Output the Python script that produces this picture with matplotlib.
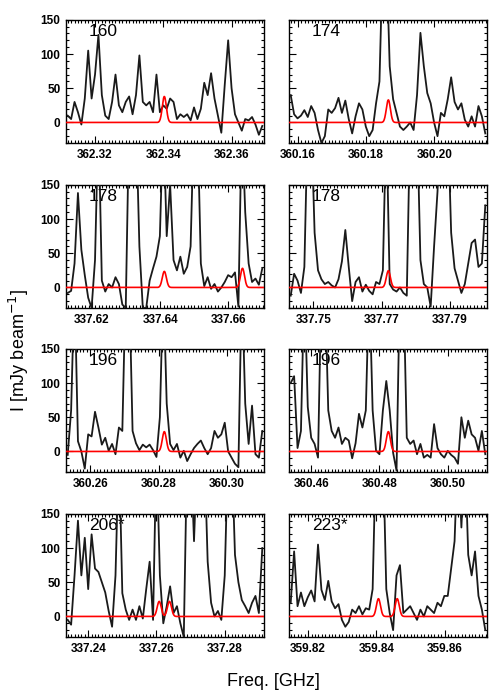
import numpy as np
import matplotlib
matplotlib.use('Agg')
import matplotlib.pyplot as plt
from matplotlib.ticker import MultipleLocator, FixedLocator

plt.rcParams['font.family'] = ['Liberation Sans', 'DejaVu Sans']

# panel labels and frequency windows (GHz)
panel_labels = ['160', '174', '178', '178', '196', '196', '206*', '223*']
freq_lo = [362.3115, 360.1574, 337.6124, 337.7429, 360.2529, 360.4535, 337.2335, 359.8144]
freq_span = 0.058
chan_width = 0.001

xtick_vals = [[362.32, 362.34, 362.36],
              [360.16, 360.18, 360.20],
              [337.62, 337.64, 337.66],
              [337.75, 337.77, 337.79],
              [360.26, 360.28, 360.30],
              [360.46, 360.48, 360.50],
              [337.24, 337.26, 337.28],
              [359.82, 359.84, 359.86]]

# observed spectra (mJy/beam), one value per channel
spec_160 = [10, 5, 30, 15, -3, 35, 105, 35, 70, 128, 40, 10, 5, 30, 70, 25, 15, 30, 38, 12,
            40, 98, 30, 25, 30, 15, 70, 15, 25, 20, 35, 30, 5, 12, 8, 12, 3, 22, 5, 20,
            58, 40, 72, 35, 10, -15, 55, 120, 50, 12, 0, -12, 5, 3, 8, -3, -18, -5]
spec_174 = [40, 12, 6, 10, 18, 8, 24, 14, -11, -30, -20, 19, 14, 21, 36, 14, 32, 5, -16, 9,
            28, 19, -6, -20, -11, 28, 60, 250, 250, 82, 34, 14, -6, -11, -6, 0, -11, 40, 131, 82,
            43, 28, 0, -20, 14, 9, 34, 66, 30, 19, 28, 4, -6, 9, -6, 24, 9, -16]
spec_178a = [-8, -5, 35, 138, 55, 18, -15, -30, 40, 250, 10, -6, 5, 0, 15, 5, -25, -30, 250, 250,
             250, 60, -30, -30, 10, 28, 45, 75, 250, 75, 150, 40, 25, 45, 20, 30, 60, 250, 250, 35,
             2, 15, -2, 5, -6, 0, 8, 18, 15, 22, -28, 250, 110, 35, 8, 13, 4, 28]
spec_178b = [-12, 20, 10, -8, 30, 250, 250, 80, 25, 12, 5, 8, 3, 0, 12, 38, 84, 30, -20, 8,
             15, -6, 4, -5, -10, 8, 5, 25, 250, 5, -3, -6, 0, -8, -12, 250, 250, 250, 40, 5,
             0, -28, 60, 140, 250, 250, 250, 80, 28, 10, -8, 5, 35, 65, 70, 30, 35, 120]
spec_196a = [-5, 60, 250, 15, 0, -25, 25, 22, 58, 35, 10, 20, 1, 11, -4, 35, 30, 250, 250, 30,
             12, 2, 10, 6, 10, 2, -8, 50, 250, 70, 11, 2, 11, -9, 1, -14, -4, 5, 11, 16,
             5, -4, 5, 30, 20, 25, 42, 0, -9, -18, -23, 250, 70, 11, 67, -4, -9, 30]
spec_196b = [100, 110, 5, 30, 250, 65, 20, 11, -9, 250, 250, 60, 30, 20, 35, 11, 20, 16, -10, 12,
             55, 35, 60, 250, 60, 1, -4, 60, 103, 60, -2, -28, 250, 250, 20, 11, 16, -4, 11, -9,
             -5, -9, 40, 5, -4, -9, 1, -5, -9, -18, 50, 20, 45, 25, 20, 1, 30, -4]
spec_206 = [-5, -12, 60, 140, 60, 115, 40, 120, 70, 65, 50, 35, 8, -15, 60, 250, 34, 10, -5, 10,
            -5, 15, -3, 40, 80, -5, 250, 60, -10, 15, 44, 5, 15, -10, -30, 250, 250, 110, 250, 250,
            250, 80, 20, 0, 8, -5, 60, 250, 250, 90, 50, 24, 15, 5, 20, 30, 5, 100]
spec_223 = [20, 95, 15, 35, 15, 28, 38, 22, 105, 39, 24, 52, 22, 12, 18, -5, -15, -8, 10, 5,
            15, 3, 12, 10, 40, 250, 250, 250, 40, 5, -20, 60, 75, 5, 10, 15, 5, -5, 10, 0,
            15, 10, 5, 20, 15, 30, 30, 70, 110, 250, 130, 250, 90, 60, 95, 30, 10, -20]
spectra = [spec_160, spec_174, spec_178a, spec_178b, spec_196a, spec_196b, spec_206, spec_223]

# gaussian model lines: centres (GHz), peak (mJy/beam)
model_freqs = [[362.3403], [360.1865], [337.6412, 337.6641], [337.7720],
               [360.2817], [360.4826], [337.2608, 337.2638], [359.8406, 359.8461]]
model_peaks = [[38], [33], [23.5, 28], [24.5], [29], [29], [22, 22], [26, 26]]
model_fwhm = 0.0014

fig = plt.figure(figsize=(5, 7), dpi=100)
col_left = [0.132, 0.578]
row_bottom = [0.7957, 0.56, 0.3257, 0.09]
ax_w, ax_h = 0.396, 0.176

sig = model_fwhm / 2.3548
for k in range(8):
    row, col = k // 2, k % 2
    ax = fig.add_axes([col_left[col], row_bottom[row], ax_w, ax_h])
    lo = freq_lo[k]
    hi = lo + freq_span
    spec = np.array(spectra[k], dtype=float)
    freq = lo + chan_width * (np.arange(len(spec)) + 0.5)
    ax.plot(freq, spec, color='#1a1a1a', lw=1.3, zorder=3)

    fgrid = np.linspace(lo, hi, 600)
    model = np.zeros_like(fgrid)
    for f0, a in zip(model_freqs[k], model_peaks[k]):
        model += a * np.exp(-0.5 * ((fgrid - f0) / sig) ** 2)
    ax.plot(fgrid, model, color='red', lw=1.2, zorder=4)

    ax.set_xlim(lo, hi)
    ax.set_ylim(-30, 150)
    ax.xaxis.set_major_locator(FixedLocator(xtick_vals[k]))
    ax.set_xticklabels(['%.2f' % v for v in xtick_vals[k]], fontsize=8.5, fontweight='bold')
    ax.xaxis.set_minor_locator(MultipleLocator(0.001))
    ax.yaxis.set_major_locator(FixedLocator([0, 50, 100, 150]))
    ax.yaxis.set_minor_locator(MultipleLocator(10))
    if col == 0:
        ax.set_yticklabels(['0', '50', '100', '150'], fontsize=8.5, fontweight='bold')
    else:
        ax.set_yticklabels([])
    ax.tick_params(which='both', direction='in', top=True, right=True, width=0.8)
    ax.tick_params(which='major', length=5, pad=4)
    ax.tick_params(which='minor', length=2)
    for s in ax.spines.values():
        s.set_linewidth(1.0)
    ax.text(0.115, 0.965, panel_labels[k], transform=ax.transAxes, fontsize=12.5,
            ha='left', va='top', zorder=1)

fig.text(0.038, 0.5, 'I [mJy beam$^{-1}$]', rotation=90, ha='center', va='center', fontsize=13)
fig.text(0.547, 0.026, 'Freq. [GHz]', ha='center', va='center', fontsize=13)

fig.savefig('out.png', dpi=100)
